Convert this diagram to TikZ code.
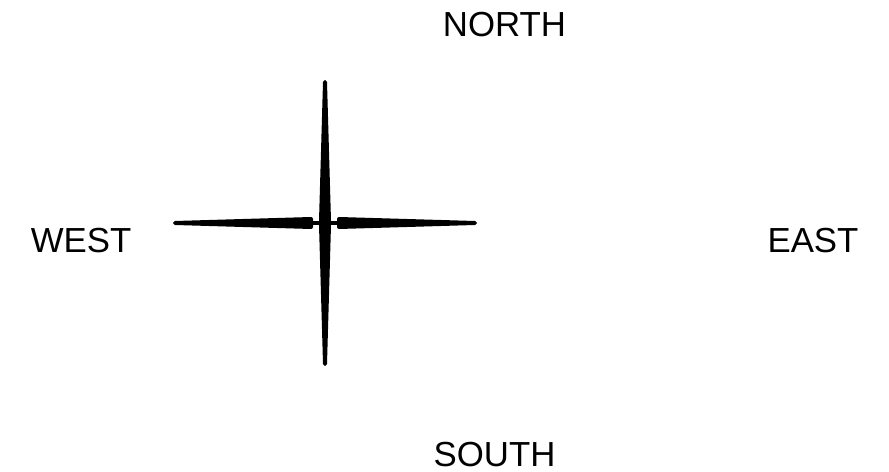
\documentclass[tikz,border=0pt]{standalone}
\usepackage{fontspec}
\setmainfont{Liberation Sans}
\usetikzlibrary{positioning}

\begin{document}
\begin{tikzpicture}[
    x=0.02cm, y=-0.02cm,
    dir/.style={font=\fontsize{19.8}{24}\selectfont, inner sep=0pt, anchor=center},
    arm/.style={fill=black, draw=black, line width=0.08cm, line join=round},
    hub/.style={line width=0.08cm, line cap=round}
  ]
    \useasboundingbox (0,0) rectangle (889,472);
    % direction labels
    \node[dir] (north) at (504.5,25) {NORTH};
    \node[dir] (west) at (81,240.5) {WEST};
    \node[dir] (east) at (813,240.5) {EAST};
    \node[dir] (south) at (494.5,455) {SOUTH};
    % needle
    \coordinate (c) at (325,223);
    \draw[hub] (313,223) -- (337,223);
    \filldraw[arm] (325,82) -- (329,221) -- (321,221) -- cycle;
    \filldraw[arm] (325,364) -- (329,225) -- (321,225) -- cycle;
    \filldraw[arm] (175,223) -- (311,219) -- (311,227) -- cycle;
    \filldraw[arm] (475,223) -- (339,219) -- (339,227) -- cycle;
\end{tikzpicture}
\end{document}
